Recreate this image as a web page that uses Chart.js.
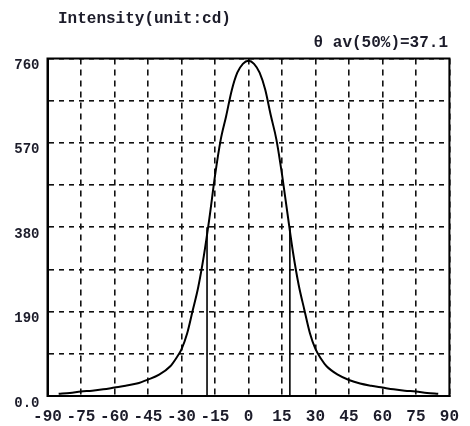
<!DOCTYPE html>
<html>
<head>
<meta charset="utf-8">
<script src="https://cdn.jsdelivr.net/npm/chart.js@4"></script>
<style>
html,body{margin:0;padding:0;background:#fff;}
#wrap{width:470px;height:426px;position:relative;}
</style>
</head>
<body>
<div id="wrap"><canvas id="c" width="470" height="426"></canvas></div>
<script>
// Data
const angles = [-85,-80,-75,-70,-65,-60,-55,-50,-45,-40,-35,-32.5,-30,-27.5,-25,-22.5,-20,-17.5,-15,-12.5,-10,-7.5,-5,-2.5,0,2.5,5,7.5,10,12.5,15,17.5,20,22.5,25,27.5,30,32.5,35,40,45,50,55,60,65,70,75,80,85];
const intensity = [5,7,10,12,15,19,23,28,37,48,67,84,105,140,192,245,315,400,495,575,630,688,728,748,755,748,728,690,632,578,500,410,322,250,195,142,106,84,67,48,36,28,23,19,15,12,10,7,5];
const halfAngles = [-18.55, 18.55];
const halfLevel = 380;
const xTicks = [-90,-75,-60,-45,-30,-15,0,15,30,45,60,75,90];
const yTickLabels = ['0.0','190','380','570','760'];
const titleText = 'Intensity(unit:cd)';
const subtitleText = '\u03b8 av(50%)=37.1';

const FONT = '"Liberation Mono", "DejaVu Sans Mono", monospace';
const TEXT = '#1c1c2a';

const curve = angles.map((a,i)=>({x:a,y:intensity[i]}));
const markers = halfAngles.map(a=>({
  type:'line',
  data:[{x:a,y:0},{x:a,y:halfLevel}],
  borderColor:'#000',borderWidth:1.6,pointRadius:0,tension:0
}));

const frame = {
  id:'frame',
  afterDraw(chart){
    const {ctx, chartArea:a} = chart;
    ctx.save();
    ctx.strokeStyle = '#000';
    ctx.lineWidth = 2;
    ctx.strokeRect(a.left, a.top, a.right-a.left, a.bottom-a.top);
    ctx.fillStyle = TEXT;
    ctx.font = 'bold 16px ' + FONT;
    ctx.textBaseline = 'middle';
    ctx.textAlign = 'left';
    ctx.fillText(titleText, 58, 19);
    ctx.textAlign = 'right';
    ctx.fillText(subtitleText, 448, 43);
    ctx.restore();
  }
};

new Chart(document.getElementById('c'), {
  type:'line',
  data:{
    datasets:[
      {data:curve,borderColor:'#000',borderWidth:2,pointRadius:0,tension:0.35,cubicInterpolationMode:'monotone'},
      ...markers
    ]
  },
  options:{
    responsive:false,
    animation:false,
    layout:{padding:{left:0,top:58.5,right:10,bottom:0}},
    plugins:{legend:{display:false},tooltip:{enabled:false},title:{display:false}},
    scales:{
      x:{
        type:'linear',min:-90,max:90,
        afterBuildTicks(s){ s.ticks = xTicks.map(v=>({value:v})); },
        afterFit(s){ s.height = 30; },
        grid:{color:'#111',lineWidth:1.6,drawTicks:false},
        border:{display:true,color:'#000',width:2,dash:[6,5]},
        ticks:{color:TEXT,font:{family:FONT,size:16,weight:'bold'},padding:11,maxRotation:0,autoSkip:false,
          callback:(v)=>String(v)}
      },
      y:{
        type:'linear',min:0,max:760,
        ticks:{stepSize:95,color:TEXT,font:{family:FONT,size:14,weight:'bold'},padding:8,labelOffset:7,autoSkip:false,
          callback:(v)=>{ const i = Math.round(v/190); return (v%190===0) ? yTickLabels[i] : ''; }},
        afterFit(s){ s.width = 47.5; },
        grid:{color:'#111',lineWidth:1.6,drawTicks:false},
        border:{display:true,color:'#000',width:2,dash:[5,5]}
      }
    }
  },
  plugins:[frame]
});
</script>
</body>
</html>
